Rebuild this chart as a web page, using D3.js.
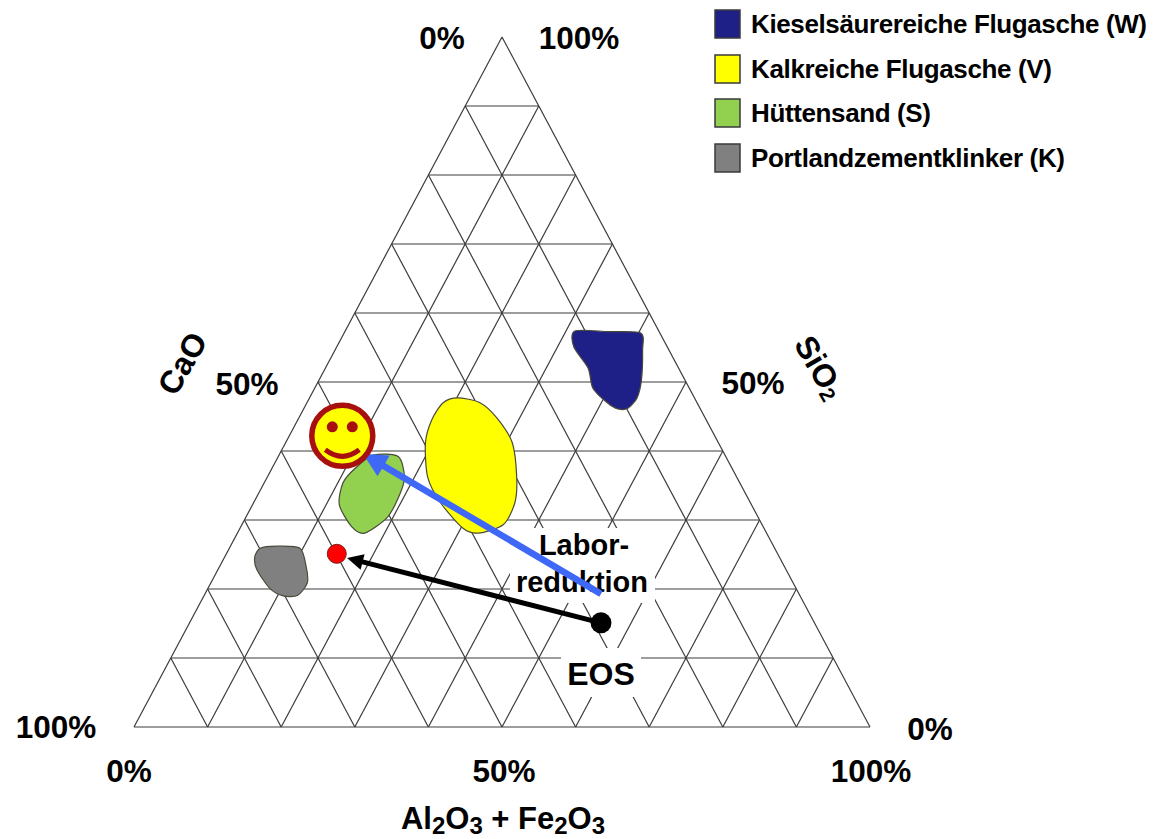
<!DOCTYPE html>
<html>
<head>
<meta charset="utf-8">
<script src="https://cdnjs.cloudflare.com/ajax/libs/d3/7.8.5/d3.min.js"></script>
<style>
  body { margin: 0; background: #fff; }
  text { font-family: "Liberation Sans", Arial, sans-serif; font-weight: bold; fill: #000; }
</style>
</head>
<body>
<div id="chart"></div>
<script>
// all outlines are [Al2O3+Fe2O3 %, SiO2 %], CaO is the rest up to 100
let legendNames = ["Kieselsäurereiche Flugasche (W)", "Kalkreiche Flugasche (V)", "Hüttensand (S)", "Portlandzementklinker (K)"];
let legendColors = ["#1f2087", "#ffff00", "#92d050", "#808080"];

let fieldW = [[31.2, 57.4], [35.8, 57.3], [40.3, 57.1], [41.8, 54.6], [43.8, 50.3], [44.5, 47.7], [44.0, 46.2], [42.7, 46.1], [40.8, 47.0], [37.8, 49.1], [35.7, 52.0], [32.2, 55.1]];
let fieldV = [[20.1, 47.7], [23.5, 47.0], [26.9, 44.8], [30.8, 41.2], [33.9, 36.2], [35.5, 32.5], [35.5, 29.3], [32.7, 28.1], [30.3, 28.8], [25.4, 32.5], [21.8, 36.2], [19.0, 41.2], [18.2, 44.5], [18.5, 47.0]];
let fieldS = [[12.8, 39.4], [16.3, 39.2], [18.7, 36.1], [19.3, 33.2], [19.2, 30.3], [17.3, 28.1], [15.1, 29.0], [11.8, 32.2], [10.7, 35.4], [11.3, 37.5]];
let fieldK = [[4.2, 25.9], [6.3, 26.2], [9.6, 25.9], [11.8, 23.2], [13.1, 20.9], [12.7, 19.1], [10.8, 19.0], [8.4, 20.1], [5.3, 22.8], [4.1, 24.6]];
let fields = [fieldW, fieldV, fieldS, fieldK];

let pointEOS = [55.9, 15.1];
let pointLab = [15.0, 25.1];
let pointGoal = [7.2, 42.2];
let arrowLabFrom = [53.8, 19.3];
let arrowLabTo = [11.3, 39.6];
let arrowEOSTo = [16.7, 24.5];

let svg = d3.select("#chart").append("svg")
    .attr("width", 1153)
    .attr("height", 839);

let xScale = d3.scaleLinear().domain([0, 100]).range([134, 870]);
let yScale = d3.scaleLinear().domain([0, 100]).range([727, 37]);

function project(d) {
    return [xScale(d[0] + d[1] / 2), yScale(d[1])];
}

// grid, one line per direction and tick
let gridLines = [];
xScale.ticks(10).forEach(function(v) {
    gridLines.push([[0, v], [100 - v, v]]);
    gridLines.push([[v, 0], [v, 100 - v]]);
    gridLines.push([[v, 0], [0, v]]);
});
svg.append("g").selectAll("line")
    .data(gridLines)
    .enter().append("line")
    .attr("x1", function(d) { return project(d[0])[0]; })
    .attr("y1", function(d) { return project(d[0])[1]; })
    .attr("x2", function(d) { return project(d[1])[0]; })
    .attr("y2", function(d) { return project(d[1])[1]; })
    .attr("stroke", "#3c3c3c")
    .attr("stroke-width", 1.2);

// fields
let outline = d3.line()
    .x(function(d) { return project(d)[0]; })
    .y(function(d) { return project(d)[1]; })
    .curve(d3.curveCardinalClosed.tension(0.2));
svg.append("g").selectAll("path")
    .data(fields)
    .enter().append("path")
    .attr("d", outline)
    .attr("fill", function(d, i) { return legendColors[i]; })
    .attr("stroke", "#4a4a3a")
    .attr("stroke-width", 1.2);

// white boxes behind the two labels
svg.append("rect").attr("x", 510).attr("y", 528).attr("width", 145).attr("height", 75).attr("fill", "#fff");
svg.append("rect").attr("x", 561).attr("y", 648).attr("width", 80).attr("height", 49).attr("fill", "#fff");

function arrow(from, to, w, headLen, headW, color) {
    let a = project(from), b = project(to);
    let len = Math.hypot(b[0] - a[0], b[1] - a[1]);
    let angle = Math.atan2(b[1] - a[1], b[0] - a[0]) * 180 / Math.PI;
    let g = svg.append("g")
        .attr("transform", "translate(" + a[0] + "," + a[1] + ") rotate(" + angle + ")");
    g.append("line")
        .attr("x2", len - headLen + 2)
        .attr("stroke", color)
        .attr("stroke-width", w);
    g.append("path")
        .attr("d", "M" + len + ",0L" + (len - headLen) + "," + (-headW / 2) + "L" + (len - headLen) + "," + (headW / 2) + "Z")
        .attr("fill", color);
}

svg.append("text").attr("x", 584).attr("y", 555).attr("text-anchor", "middle").attr("font-size", 29).text("Labor-");
svg.append("text").attr("x", 582).attr("y", 592).attr("text-anchor", "middle").attr("font-size", 29).text("reduktion");
svg.append("text").attr("x", 601).attr("y", 685).attr("text-anchor", "middle").attr("font-size", 32).text("EOS");

arrow(pointEOS, arrowEOSTo, 5, 16, 16, "#000");
arrow(arrowLabFrom, arrowLabTo, 6.5, 24, 24, "#3f68f6");

svg.append("circle")
    .attr("cx", project(pointEOS)[0]).attr("cy", project(pointEOS)[1])
    .attr("r", 10.5).attr("fill", "#000");
svg.append("circle")
    .attr("cx", project(pointLab)[0]).attr("cy", project(pointLab)[1])
    .attr("r", 9.5).attr("fill", "#ff0000").attr("stroke", "#7a2020").attr("stroke-width", 1);

// smiley
let goal = project(pointGoal);
let smiley = svg.append("g").attr("transform", "translate(" + goal[0] + "," + goal[1] + ")");
smiley.append("circle").attr("r", 30.5).attr("fill", "#ffff00").attr("stroke", "#a80f0f").attr("stroke-width", 5.5);
smiley.selectAll(".eye").data([-10, 10]).enter().append("circle")
    .attr("class", "eye")
    .attr("cx", function(d) { return d; })
    .attr("cy", -9)
    .attr("r", 5.5)
    .attr("fill", "#a80f0f");
smiley.append("path").attr("d", "M-17,14Q0,27 17,14").attr("fill", "none").attr("stroke", "#a80f0f").attr("stroke-width", 5);

// tick labels, placed beside the corner or edge they belong to
let tickLabels = [
    {t: "0%", p: [0, 100], dx: -60, dy: 12},
    {t: "100%", p: [0, 100], dx: 77, dy: 12},
    {t: "50%", p: [0, 50], dx: -71, dy: 13},
    {t: "50%", p: [50, 50], dx: 67, dy: 12},
    {t: "100%", p: [0, 0], dx: -78, dy: 11},
    {t: "0%", p: [100, 0], dx: 60, dy: 13},
    {t: "0%", p: [0, 0], dx: -5, dy: 55},
    {t: "50%", p: [50, 0], dx: 2, dy: 55},
    {t: "100%", p: [100, 0], dx: 1, dy: 55}
];
svg.append("g").selectAll("text")
    .data(tickLabels)
    .enter().append("text")
    .attr("x", function(d) { return project(d.p)[0] + d.dx; })
    .attr("y", function(d) { return project(d.p)[1] + d.dy; })
    .attr("text-anchor", "middle")
    .attr("font-size", 31.5)
    .text(function(d) { return d.t; });

// axis titles
svg.append("text")
    .attr("transform", "translate(192,369) rotate(-60)")
    .attr("text-anchor", "middle")
    .attr("font-size", 32)
    .text("CaO");

let sio2 = svg.append("text")
    .attr("transform", "translate(810,373) rotate(60)")
    .attr("text-anchor", "middle")
    .attr("font-size", 32);
sio2.append("tspan").text("SiO");
sio2.append("tspan").attr("font-size", 21).attr("dy", 3).text("2");

let bottomTitle = svg.append("text")
    .attr("x", 503).attr("y", 828.5)
    .attr("text-anchor", "middle")
    .attr("font-size", 31);
[["Al", 0], ["2", 1], ["O", 0], ["3", 1], [" + Fe", 0], ["2", 1], ["O", 0], ["3", 1]].forEach(function(d, i, all) {
    let prevSub = i > 0 ? all[i - 1][1] : 0;
    bottomTitle.append("tspan")
        .attr("font-size", d[1] ? 24 : 31)
        .attr("dy", d[1] === prevSub ? 0 : (d[1] ? 5 : -5))
        .text(d[0]);
});

// legend
let legendWidths = [396, 301, 180, 314];
let li = {x: 715, w: 25, h: 28};
let legendTop = [10, 55, 99, 144];
let legend = svg.append("g").selectAll("g")
    .data(legendNames)
    .enter().append("g")
    .attr("transform", function(d, i) { return "translate(" + li.x + "," + legendTop[i] + ")"; });
legend.append("rect")
    .attr("width", li.w)
    .attr("height", li.h)
    .attr("fill", function(d, i) { return legendColors[i]; })
    .attr("stroke", "#3a3a3a")
    .attr("stroke-width", 1.5);
legend.append("text")
    .attr("x", 36)
    .attr("y", 23)
    .attr("font-size", 26)
    .attr("textLength", function(d, i) { return legendWidths[i]; })
    .attr("lengthAdjust", "spacing")
    .text(function(d) { return d; });
</script>
</body>
</html>
